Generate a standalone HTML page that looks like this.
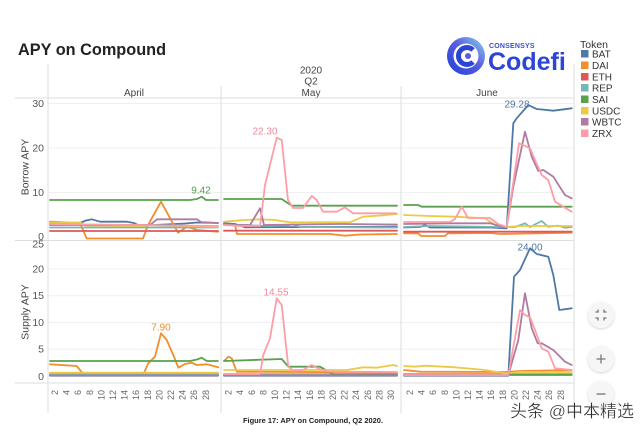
<!DOCTYPE html>
<html><head><meta charset="utf-8"><style>
html,body{margin:0;padding:0;background:#fff;}
svg{display:block;}
text{font-family:"Liberation Sans",sans-serif;}
</style></head><body>
<svg width="640" height="433" viewBox="0 0 640 433" xmlns="http://www.w3.org/2000/svg">
<rect width="640" height="433" fill="#fff"/>
<defs>
<linearGradient id="lg" x1="0" y1="1" x2="1" y2="0">
<stop offset="0" stop-color="#1e3fd6"/><stop offset="0.55" stop-color="#5a5ee0"/><stop offset="1" stop-color="#8fd6ee"/>
</linearGradient>
<filter id="sh" x="-30%" y="-30%" width="160%" height="160%"><feDropShadow dx="0" dy="1" stdDeviation="1.2" flood-color="#000" flood-opacity="0.18"/></filter>
</defs>

<!-- Title -->
<text x="18" y="55" font-size="16.3" font-weight="bold" fill="#222">APY on Compound</text>

<!-- Logo -->
<circle cx="466" cy="56" r="19" fill="url(#lg)"/>
<circle cx="466" cy="56" r="12.5" fill="#fff"/>
<path d="M473 50 A8.5 8.5 0 1 0 473 62" fill="none" stroke="#2a45d8" stroke-width="5"/>
<circle cx="468" cy="56" r="3" fill="#5a5ee0"/>
<text x="489" y="48" font-size="7" font-weight="bold" fill="#3a4fd0" letter-spacing="0.2">CONSENSYS</text>
<text x="488" y="70" font-size="25" font-weight="bold" fill="#2d45d6">Codefi</text>

<!-- Legend -->
<text x="580" y="48" font-size="10.5" fill="#333">Token</text>
<g font-size="10" fill="#333">
<rect x="581" y="50" width="7.5" height="7.5" fill="#4e79a7"/><text x="592" y="57.5">BAT</text>
<rect x="581" y="61.5" width="7.5" height="7.5" fill="#f28e2b"/><text x="592" y="69">DAI</text>
<rect x="581" y="73" width="7.5" height="7.5" fill="#e15759"/><text x="592" y="80.5">ETH</text>
<rect x="581" y="84" width="7.5" height="7.5" fill="#76b7b2"/><text x="592" y="91.5">REP</text>
<rect x="581" y="95.5" width="7.5" height="7.5" fill="#59a14f"/><text x="592" y="103">SAI</text>
<rect x="581" y="107" width="7.5" height="7.5" fill="#edc948"/><text x="592" y="114.5">USDC</text>
<rect x="581" y="118" width="7.5" height="7.5" fill="#b07aa1"/><text x="592" y="125.5">WBTC</text>
<rect x="581" y="129.5" width="7.5" height="7.5" fill="#ff9da7"/><text x="592" y="137">ZRX</text>
</g>

<!-- Header labels -->
<g font-size="10" fill="#444" text-anchor="middle">
<text x="311" y="73.5">2020</text>
<text x="311" y="84.5">Q2</text>
<text x="134" y="96">April</text>
<text x="311" y="96">May</text>
<text x="487" y="96">June</text>
</g>

<!-- gridlines -->
<g stroke="#f0f0f0" stroke-width="1">
<line x1="48" y1="103.5" x2="574" y2="103.5"/>
<line x1="48" y1="148" x2="574" y2="148"/>
<line x1="48" y1="192.5" x2="574" y2="192.5"/>
<line x1="48" y1="269" x2="574" y2="269"/>
<line x1="48" y1="295.7" x2="574" y2="295.7"/>
<line x1="48" y1="322.5" x2="574" y2="322.5"/>
<line x1="48" y1="349.2" x2="574" y2="349.2"/>
</g>
<!-- frame lines -->
<g stroke="#dedede" stroke-width="1">
<line x1="15" y1="98" x2="574" y2="98"/>
<line x1="15" y1="240.5" x2="574" y2="240.5"/>
<line x1="15" y1="383" x2="574" y2="383"/>
<line x1="48" y1="64" x2="48" y2="413"/>
<line x1="221" y1="86" x2="221" y2="413"/>
<line x1="401" y1="86" x2="401" y2="413"/>
<line x1="574" y1="64" x2="574" y2="413"/>
</g>

<!-- Y ticks -->
<g font-size="10.5" fill="#555" text-anchor="end">
<text x="44" y="107">30</text>
<text x="44" y="151.5">20</text>
<text x="44" y="196">10</text>
<text x="44" y="240">0</text>
<text x="44" y="247.5">25</text>
<text x="44" y="272.5">20</text>
<text x="44" y="299.2">15</text>
<text x="44" y="326">10</text>
<text x="44" y="352.7">5</text>
<text x="44" y="380">0</text>
</g>
<g font-size="10.5" fill="#444" text-anchor="middle">
<text transform="translate(28.5,167) rotate(-90)">Borrow APY</text>
<text transform="translate(28.5,312) rotate(-90)">Supply APY</text>
</g>

<!-- X ticks (rotated) -->
<g font-size="9" fill="#666" text-anchor="end">
<text transform="translate(55,390) rotate(-90)" dy="3">2</text>
<text transform="translate(66.6,390) rotate(-90)" dy="3">4</text>
<text transform="translate(78.2,390) rotate(-90)" dy="3">6</text>
<text transform="translate(89.8,390) rotate(-90)" dy="3">8</text>
<text transform="translate(101.4,390) rotate(-90)" dy="3">10</text>
<text transform="translate(113,390) rotate(-90)" dy="3">12</text>
<text transform="translate(124.6,390) rotate(-90)" dy="3">14</text>
<text transform="translate(136.2,390) rotate(-90)" dy="3">16</text>
<text transform="translate(147.8,390) rotate(-90)" dy="3">18</text>
<text transform="translate(159.4,390) rotate(-90)" dy="3">20</text>
<text transform="translate(171,390) rotate(-90)" dy="3">22</text>
<text transform="translate(182.6,390) rotate(-90)" dy="3">24</text>
<text transform="translate(194.2,390) rotate(-90)" dy="3">26</text>
<text transform="translate(205.8,390) rotate(-90)" dy="3">28</text>

<text transform="translate(228.6,390) rotate(-90)" dy="3">2</text>
<text transform="translate(240.2,390) rotate(-90)" dy="3">4</text>
<text transform="translate(251.8,390) rotate(-90)" dy="3">6</text>
<text transform="translate(263.4,390) rotate(-90)" dy="3">8</text>
<text transform="translate(275,390) rotate(-90)" dy="3">10</text>
<text transform="translate(286.6,390) rotate(-90)" dy="3">12</text>
<text transform="translate(298.2,390) rotate(-90)" dy="3">14</text>
<text transform="translate(309.8,390) rotate(-90)" dy="3">16</text>
<text transform="translate(321.4,390) rotate(-90)" dy="3">18</text>
<text transform="translate(333,390) rotate(-90)" dy="3">20</text>
<text transform="translate(344.6,390) rotate(-90)" dy="3">22</text>
<text transform="translate(356.2,390) rotate(-90)" dy="3">24</text>
<text transform="translate(367.8,390) rotate(-90)" dy="3">26</text>
<text transform="translate(379.4,390) rotate(-90)" dy="3">28</text>
<text transform="translate(391,390) rotate(-90)" dy="3">30</text>

<text transform="translate(410,390) rotate(-90)" dy="3">2</text>
<text transform="translate(421.6,390) rotate(-90)" dy="3">4</text>
<text transform="translate(433.2,390) rotate(-90)" dy="3">6</text>
<text transform="translate(444.8,390) rotate(-90)" dy="3">8</text>
<text transform="translate(456.4,390) rotate(-90)" dy="3">10</text>
<text transform="translate(468,390) rotate(-90)" dy="3">12</text>
<text transform="translate(479.6,390) rotate(-90)" dy="3">14</text>
<text transform="translate(491.2,390) rotate(-90)" dy="3">16</text>
<text transform="translate(502.8,390) rotate(-90)" dy="3">18</text>
<text transform="translate(514.4,390) rotate(-90)" dy="3">20</text>
<text transform="translate(526,390) rotate(-90)" dy="3">22</text>
<text transform="translate(537.6,390) rotate(-90)" dy="3">24</text>
<text transform="translate(549.2,390) rotate(-90)" dy="3">26</text>
<text transform="translate(560.8,390) rotate(-90)" dy="3">28</text>
</g>

<!-- SERIES -->
<g fill="none" stroke-width="1.8" stroke-linejoin="round" stroke-linecap="round">
<!-- BAT -->
<g stroke="#4e79a7">
<polyline points="50,223 80,223 86,220.5 92,219.3 100,221.7 127,221.7 134,223 138,225 153,225 165,224.5 185,223.5 197,222.5 218,223"/>
<polyline points="224,223.3 235,224 245,227.3 397,226.7"/>
<polyline points="404,227.5 420,227 425,225 430,227.5 490,227.5 506.7,228.3 513.3,123.3 516.7,118.3 528.3,105 531.7,106.7 536.7,109 553.3,110.7 571.7,108.3"/>
<polyline points="50,375.7 218,375.7"/>
<polyline points="224,375.7 397,375.7"/>
<polyline points="404,375.7 508.3,375.7 514,276.7 520,270 530,248.3 536.7,254 548.3,256.7 553.3,275 559.3,310 571.7,308.3"/>
</g>
<!-- DAI -->
<g stroke="#f28e2b">
<polyline points="50,221.7 80,223 86.7,238.5 143,238.5 148,225 161,201.7 178,232.7 187,226.7 197,230 218,231.7"/>
<polyline points="224,225 235,225 237,234 330,234 345,235.7 360,234.5 397,234"/>
<polyline points="404,233.3 418,233.3 421,236 445,236 448,233.3 490,233 500,234 571.7,232.7"/>
<polyline points="50,364.3 76.7,366 83.3,374 143.3,374.5 148.3,363.3 155,356.7 161,333.3 166.7,340 173.3,355 178.3,367.7 185,364 191.7,362.7 196.7,365 206.7,364.3 218.3,367.3"/>
<polyline points="224,361 228.3,356.7 231.7,358.3 236.7,371.7 397,372.5"/>
<polyline points="404,370 420,371.7 505,372 520,371 571.7,370"/>
</g>
<!-- ETH -->
<g stroke="#e15759">
<polyline points="50,231 218,231"/>
<polyline points="224,230.7 397,230.7"/>
<polyline points="404,231.7 571.7,231.7"/>
<polyline points="50,375 218,375"/>
<polyline points="224,375 397,375"/>
<polyline points="404,375 571.7,375"/>
</g>
<!-- REP -->
<g stroke="#76b7b2">
<polyline points="50,227.5 218,227.5"/>
<polyline points="224,224.5 270,226 285,225.5 293,224.5 300,227 397,227.5"/>
<polyline points="404,227 430,226 500,227 515,227 525,223.3 530,227 541.7,221 548,226.7 558.3,225.7 565,227.7 571.7,227"/>
<polyline points="50,374 218,374"/>
<polyline points="224,374.2 397,374.2"/>
<polyline points="404,374.2 571.7,374.2"/>
</g>
<!-- SAI -->
<g stroke="#59a14f">
<polyline points="50,200 190,200 197,199 201.7,196.7 206,200 218,200"/>
<polyline points="224,199 281.7,199 291.7,205.7 397,205.7"/>
<polyline points="404,205 418,205 421.7,206.7 571.7,206.7"/>
<polyline points="50,361 190,361 197,359.5 201.7,357.7 206.7,361 218,361"/>
<polyline points="224,361 281.7,359 288.3,366.7 320,366.7 333.3,374.3 397,374.5"/>
<polyline points="404,374.5 571.7,374.5"/>
</g>
<!-- USDC -->
<g stroke="#edc948">
<polyline points="50,222.5 80,222.5 86,225.5 143,226 150,225 218,227"/>
<polyline points="224,221.7 245,220 260,219.3 275,220 290,222.3 350,222.3 363,216.7 380,215.5 397,214"/>
<polyline points="404,215 430,216 455,216.7 485,218.3 495,225 506.7,227 520,226 571.7,226"/>
<polyline points="50,372.7 218,372.7"/>
<polyline points="224,370 300,370 346.7,370 363.3,367.3 376.7,367.7 393.3,365 397,366"/>
<polyline points="404,366 415,366.7 425,365.7 455,367.3 485,370 505,373.3 520,372 571.7,372"/>
</g>
<!-- WBTC -->
<g stroke="#b07aa1">
<polyline points="50,225 150,225 157,219.3 197,219.3 201,222 218,223"/>
<polyline points="224,225 250,225 260,208.3 264,225 300,224.5 340,224 397,224.5"/>
<polyline points="404,224 450,223.3 490,223.3 500,226 506.7,227 513.3,186.7 525,131.7 531.7,156.7 538.3,171 543.3,170 553.3,176.7 565,195 571.7,198.3"/>
<polyline points="50,375.5 218,375.5"/>
<polyline points="224,375.3 397,375.3"/>
<polyline points="404,375.3 508.3,375.3 518.3,340 525,293.3 531.7,328.3 537.7,343.3 541.7,343.3 553.3,350 565,361.7 571.7,365"/>
</g>
<!-- ZRX -->
<g stroke="#ff9da7">
<polyline points="50,224 218,226"/>
<polyline points="224,225 240,226 260,226 265,185 276.7,137.7 281.7,140 288,200 293,208 303,208 311.7,196 316.7,200 323,211.7 336.7,211.7 345,207.3 353,213.3 396,213.3"/>
<polyline points="404,222 450,222 455,219 461.7,206.7 468,218 490,218 498,224 506.7,227 519,143.3 526.7,146.7 530,148.3 535,160 541.7,175 548.3,180 555,201.7 563.3,206.7 571.7,211.7"/>
<polyline points="224,374 260,374 263.3,355 270,338.3 276.7,298.3 281.7,305 288.3,366.7 293.3,370.7 303,370 311.7,365 320,369.3 330,371.7 397,372"/>
<polyline points="404,375 508.3,375 520,310 525,315 530,317.3 535,330 541.7,348.3 548.3,351.7 555,368.3 571.7,370"/>
</g>
</g>

<!-- annotations -->
<g font-size="10" text-anchor="middle">
<text x="201" y="193.5" fill="#59a14f">9.42</text>
<text x="265" y="134.5" fill="#f08a9a">22.30</text>
<text x="517" y="107.5" fill="#4e79a7">29.28</text>
<text x="161" y="330.5" fill="#f28e2b">7.90</text>
<text x="276" y="295.5" fill="#f08a9a">14.55</text>
<text x="530" y="250.5" fill="#4e79a7">24.00</text>
</g>

<!-- controls -->
<g filter="url(#sh)">
<circle cx="601" cy="315" r="13" fill="#f6f6f6"/>
<circle cx="601" cy="359" r="13" fill="#f6f6f6"/>
<circle cx="601" cy="394" r="13" fill="#f6f6f6"/>
</g>
<g stroke="#777" stroke-width="1.3" fill="none">
<path d="M595.5 312 H598 V309.5 M604 309.5 V312 H606.5 M595.5 318 H598 V320.5 M604 320.5 V318 H606.5"/>
<path d="M596.5 359 H605.5 M601 354.5 V363.5"/>
<path d="M596.5 394 H605.5"/>
</g>

<!-- watermark -->
<text x="510" y="417" font-size="17" fill="#2a2a2a" stroke="#fff" stroke-width="0.3" font-family="'Liberation Sans','Noto Sans CJK SC',sans-serif">头条 @中本精选</text>

<!-- caption -->
<text x="243" y="423" font-size="7.5" font-weight="bold" fill="#222" textLength="140" lengthAdjust="spacingAndGlyphs">Figure 17: APY on Compound, Q2 2020.</text>
</svg>
</body></html>
